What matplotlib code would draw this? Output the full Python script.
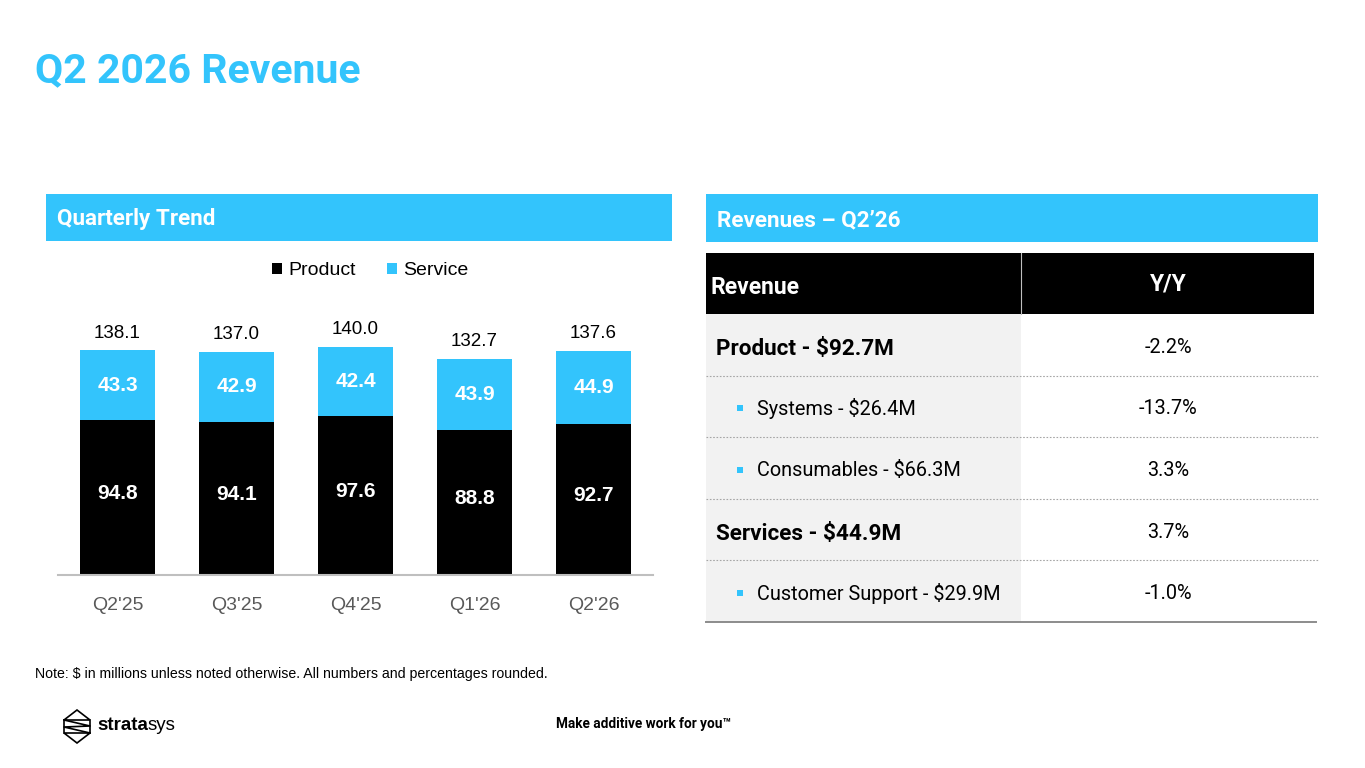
"""
Q2 2026 revenue slide: stacked quarterly bars plus a Y/Y table.
"""
import matplotlib
matplotlib.use('Agg')
import matplotlib.pyplot as plt
from matplotlib.patches import Rectangle, Polygon

# Chart data.
quarters = ["Q2'25", "Q3'25", "Q4'25", "Q1'26", "Q2'26"]
product = [94.8, 94.1, 97.6, 88.8, 92.7]
service = [43.3, 42.9, 42.4, 43.9, 44.9]
totals = [138.1, 137.0, 140.0, 132.7, 137.6]

# Table data.
row_labels = ['Product - $92.7M', 'Systems - $26.4M', 'Consumables - $66.3M',
              'Services - $44.9M', 'Customer Support - $29.9M']
row_yoy = ['-2.2%', '-13.7%', '3.3%', '3.7%', '-1.0%']
row_level = [0, 1, 1, 0, 1]

CYAN = '#33C4FC'
W, H = 1365, 768
ROBOTO = ['Roboto', 'DejaVu Sans']
ARIAL = ['Liberation Sans', 'DejaVu Sans']

fig = plt.figure(figsize=(W / 100, H / 100), dpi=100)
fig.patch.set_facecolor('white')

# Overlay axes in pixel coordinates for the slide furniture.
ov = fig.add_axes([0, 0, 1, 1])
ov.set_xlim(0, W)
ov.set_ylim(H, 0)
ov.axis('off')

ov.text(35, 71, 'Q2 2026 Revenue', color=CYAN, fontsize=29.5,
        fontweight='bold', family=ROBOTO, va='center', ha='left')

# Section bands.
ov.add_patch(Rectangle((46, 194), 626, 47, color=CYAN, lw=0))
ov.text(57, 219, 'Quarterly Trend', color='white', fontsize=16.1,
        fontweight='bold', family=ROBOTO, va='center')
ov.add_patch(Rectangle((706, 194), 612, 48, color=CYAN, lw=0))
ov.text(717, 220, 'Revenues \u2013 Q2\u201926', color='white', fontsize=16.2,
        fontweight='bold', family=ROBOTO, va='center')

# Table.
tx0, tx1, tdiv = 706, 1314, 1021
ov.add_patch(Rectangle((tx0, 253), tx1 - tx0, 61, color='black', lw=0))
ov.plot([tdiv, tdiv], [253, 314], color='#BFBFBF', lw=0.8)
ov.text(711, 287, 'Revenue', color='white', fontsize=16.5,
        fontweight='bold', family=ROBOTO, va='center')
ov.text(1168, 284, 'Y/Y', color='white', fontsize=16.5,
        fontweight='bold', family=ROBOTO, va='center', ha='center')

row_top = 314
row_h = (622 - 314) / len(row_labels)
ov.add_patch(Rectangle((tx0, row_top), tdiv - tx0, 622 - row_top,
                       color='#F2F2F2', lw=0))
for ii, (lab, yoy, lvl) in enumerate(zip(row_labels, row_yoy, row_level)):
    yc = row_top + (ii + 0.5) * row_h
    if lvl == 0:
        ov.text(716, yc + 4, lab, fontsize=16.2, fontweight='bold',
                family=ROBOTO, va='center', color='black')
    else:
        ov.add_patch(Rectangle((737, yc - 1), 6, 6, color=CYAN, lw=0))
        ov.text(757, yc + 2, lab, fontsize=14.3, family=ROBOTO,
                va='center', color='black')
    ov.text(1168, yc + 2.5, yoy, fontsize=14.3, family=ROBOTO,
            va='center', ha='center', color='black')
    yb = row_top + (ii + 1) * row_h
    if ii < len(row_labels) - 1:
        ov.plot([tx0, 1318], [yb, yb], color='#A6A6A6', lw=0.8,
                dashes=(1.5, 1.5))
    else:
        ov.plot([tx0, 1316], [yb, yb], color='#8C8C8C', lw=1.4)

# Footer.
ov.text(35, 674, 'Note: $ in millions unless noted otherwise. '
        'All numbers and percentages rounded.', fontsize=10.2,
        family=ARIAL, va='center')
ov.text(556, 724, 'Make additive work for you\u2122', fontsize=9.8,
        fontweight='bold', family=ROBOTO, va='center')

# Logo mark (rough line drawing) and wordmark.
ov.add_patch(Polygon([(77, 710), (90, 720), (64, 720)], closed=True,
                     fill=False, edgecolor='black', lw=1.2))
ov.add_patch(Polygon([(64, 733), (90, 733), (77, 743)], closed=True,
                     fill=False, edgecolor='black', lw=1.2))
ov.plot([64, 90, 64, 90], [720, 726, 727, 733], color='black', lw=1.2)
ov.plot([64, 64], [720, 733], color='black', lw=1.2)
ov.plot([90, 90], [720, 733], color='black', lw=1.2)
t1 = ov.text(97, 725, 'strata', fontsize=13.5, fontweight='bold',
             family=ARIAL, va='center')
ov.annotate('sys', xy=(1, 0.5), xycoords=t1, fontsize=13.5,
            family=ARIAL, va='center', ha='left')

# Stacked bar chart.
ax = fig.add_axes([58 / W, 1 - 575 / H, 595 / W, 275 / H])
ax.set_facecolor('none')
xs = range(len(quarters))
bp = ax.bar(xs, product, width=0.63, color='black', label='Product')
bs = ax.bar(xs, service, width=0.63, bottom=product, color=CYAN,
            label='Service')
ax.set_xlim(-0.5, len(quarters) - 0.5)
ax.set_ylim(0, 168.7)

for x, p, s, t in zip(xs, product, service, totals):
    ax.annotate(f'{p:.1f}', xy=(x, p / 2), xytext=(0, 3),
                textcoords='offset points', color='white', fontsize=15,
                fontweight='bold', family=ARIAL, ha='center', va='center')
    ax.text(x, p + s / 2, f'{s:.1f}', color='white', fontsize=15,
            fontweight='bold', family=ARIAL, ha='center', va='center')
    ax.annotate(f'{t:.1f}', xy=(x, t), xytext=(0, 6),
                textcoords='offset points', fontsize=13.5, family=ARIAL,
                ha='center', va='bottom', color='black')

for side in ['top', 'right', 'left']:
    ax.spines[side].set_visible(False)
ax.spines['bottom'].set_color('#BFBFBF')
ax.spines['bottom'].set_linewidth(1.5)
ax.set_yticks([])
ax.set_xticks(list(xs))
ax.set_xticklabels(quarters, fontsize=14, family=ARIAL, color='#595959')
ax.tick_params(axis='x', length=0, pad=16)

fig.legend(handles=[bp, bs], labels=['Product', 'Service'],
           loc='center', bbox_to_anchor=(370 / W, 1 - 271 / H), ncol=2,
           frameon=False, handlelength=0.55, handleheight=0.55,
           handletextpad=0.3, columnspacing=1.6,
           prop={'family': ARIAL, 'size': 14})

fig.savefig('out.png', dpi=100)
